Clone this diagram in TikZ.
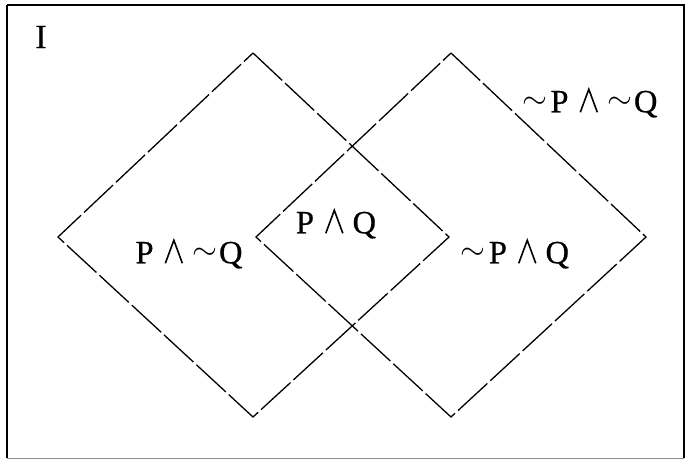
\documentclass[tikz,border=0pt]{standalone}
\usepackage{fontspec}
\usepackage{graphicx}
\setmainfont{Liberation Serif}
\newfontfamily\lblfont{Liberation Serif}[FakeBold=0.6]
\newcommand\wdg{\tikz[baseline=0pt,x=1pt,y=1pt]\draw[line width=1.6pt,line join=miter] (0,0) -- (8.5,23) -- (17,0);}
\newcommand\ngt{\raisebox{4pt}{\scalebox{3.2}[3.1]{\fontsize{10}{12}\selectfont$\sim$}}}
\begin{document}
\begin{tikzpicture}[x=1pt,y=-1pt,
  dia/.style={line width=1.3pt,dash pattern=on 40pt off 4pt,line join=miter},
  lbl/.style={font=\lblfont\fontsize{32.5}{36}\selectfont,inner sep=0pt}]
\useasboundingbox (0,0) rectangle (690,463);
\fill[white] (0,0) rectangle (690,463);
\draw[line width=1.3pt] (7,5) -- (684,5) -- (684,458);
\draw[line width=1.3pt] (7,5) -- (7,458);
\draw[line width=1pt,black!45] (7,458) -- (684,458);
% left diamond
\coordinate (lt) at (253,53);
\coordinate (ll) at (58,237);
\coordinate (lb) at (253,417);
\coordinate (lr) at (449,237);
% right diamond
\coordinate (rt) at (451,53);
\coordinate (rl) at (256,237);
\coordinate (rb) at (451,417);
\coordinate (rr) at (646,237);
\draw[dia] (lt) -- (lr) -- (lb) -- (ll) -- cycle;
\draw[dia] (rt) -- (rr) -- (rb) -- (rl) -- cycle;
\node[lbl,font=\lblfont\fontsize{34}{38}\selectfont] (i) at (41,37) {I};
\node[lbl] (pnq) at (189,254) {P\hspace{11pt}\wdg\hspace{9pt}\ngt\hspace{2pt}Q};
\node[lbl] (pq) at (336,224) {P\hspace{11pt}\wdg\hspace{9pt}Q};
\node[lbl] (npq) at (515,254) {\ngt\hspace{3pt}P\hspace{11pt}\wdg\hspace{9pt}Q};
\node[lbl] (npnq) at (590,103) {\ngt\hspace{3pt}P\hspace{11pt}\wdg\hspace{9pt}\ngt\hspace{2pt}Q};
\end{tikzpicture}
\end{document}
